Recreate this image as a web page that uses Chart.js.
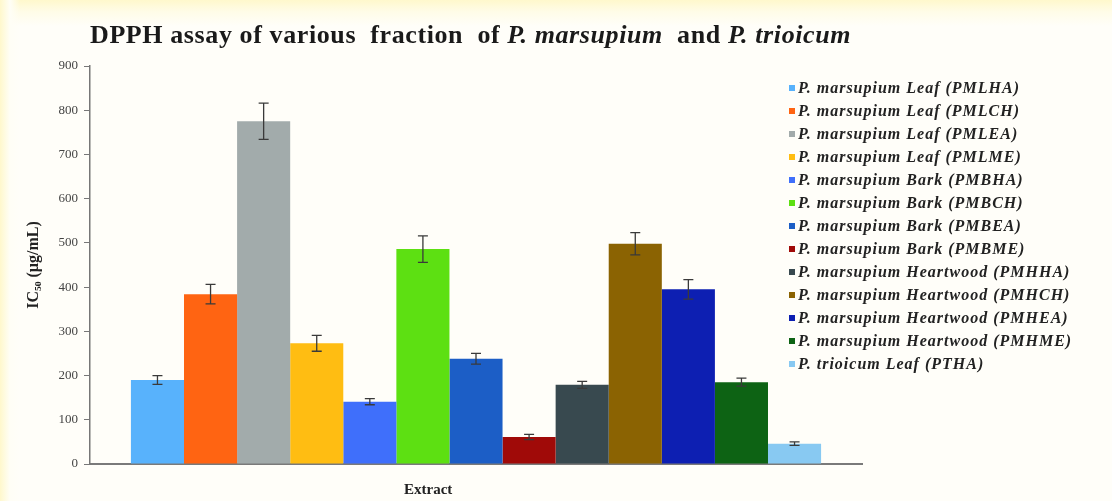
<!DOCTYPE html>
<html>
<head>
<meta charset="utf-8">
<script src="https://cdn.jsdelivr.net/npm/chart.js@4/dist/chart.umd.min.js"></script>
<style>
  html, body { margin: 0; padding: 0; }
  body {
    width: 1112px; height: 501px; overflow: hidden;
    background: linear-gradient(to bottom, #fff8cc 0px, #fffce8 12px, #fffef9 26px);
    font-family: 'Liberation Serif', 'DejaVu Serif', serif;
  }
  #wrap { position: relative; width: 1112px; height: 501px;
    background: linear-gradient(to right, #fff8cc 0px, #fffef6 10px, rgba(255,255,250,0) 20px); }
  #chart { position: absolute; left: 0; top: 0; }
  #title { position: absolute; left: 90px; top: 20px; font-weight: bold; font-size: 26px;
    color: #1a1a1a; white-space: pre; letter-spacing: 0.6px; }
  #xtitle { position: absolute; left: 404px; top: 481px; font-weight: bold; font-size: 15px; color: #222; }
  #legend { position: absolute; left: 789px; top: 79px; }
  .row { height: 23px; line-height: 17px; white-space: nowrap; font-weight: bold; font-style: italic;
    font-size: 16px; letter-spacing: 1px; color: #222; }
  .box { display: inline-block; width: 6px; height: 6px; margin-right: 3px; vertical-align: 2px; }
</style>
</head>
<body>
<div id="wrap">
  <canvas id="chart" width="1112" height="501"></canvas>
  <div id="title">DPPH assay of various  fraction  of <i>P. marsupium</i>  and <i>P. trioicum</i></div>
  <div id="xtitle">Extract</div>
  <div id="legend"></div>
</div>
<script>
const categories = ['Extract'];
const seriesNames = [
    'P. marsupium Leaf (PMLHA)',
    'P. marsupium Leaf (PMLCH)',
    'P. marsupium Leaf (PMLEA)',
    'P. marsupium Leaf (PMLME)',
    'P. marsupium Bark (PMBHA)',
    'P. marsupium Bark (PMBCH)',
    'P. marsupium Bark (PMBEA)',
    'P. marsupium Bark (PMBME)',
    'P. marsupium Heartwood (PMHHA)',
    'P. marsupium Heartwood (PMHCH)',
    'P. marsupium Heartwood (PMHEA)',
    'P. marsupium Heartwood (PMHME)',
    'P. trioicum Leaf (PTHA)'
];
const ic50Values = [190, 384, 775, 273, 141, 486, 238, 61, 179, 498, 395, 185, 46];
const errorValues = [10, 22, 41, 18, 7, 30, 12, 6, 8, 25, 22, 9, 4];
const yTicks = [0, 100, 200, 300, 400, 500, 600, 700, 800, 900];

const barColors = [
    '#58b2fc',  // PMLHA
    '#ff6412',  // PMLCH
    '#a2abab',  // PMLEA
    '#ffbd12',  // PMLME
    '#3f6ffb',  // PMBHA
    '#5de012',  // PMBCH
    '#1c5ec6',  // PMBEA
    '#a00a08',  // PMBME
    '#38494f',  // PMHHA
    '#8b6302',  // PMHCH
    '#0d1fb2',  // PMHEA
    '#0d6314',  // PMHME
    '#88c9f2'   // PTHA
];

// error bars drawn from the data through the y scale
const errorBarPlugin = {
    id: 'errorBars',
    afterDatasetsDraw(chart) {
        const ctx = chart.ctx;
        const y = chart.scales.y;
        ctx.save();
        ctx.strokeStyle = '#3a3a3a';
        ctx.lineWidth = 1.3;
        chart.data.datasets.forEach((ds, i) => {
            const bar = chart.getDatasetMeta(i).data[0];
            const v = ds.data[0];
            const e = errorValues[i];
            const top = y.getPixelForValue(v + e);
            const bot = y.getPixelForValue(v - e);
            ctx.beginPath();
            ctx.moveTo(bar.x, top); ctx.lineTo(bar.x, bot);
            ctx.moveTo(bar.x - 5, top); ctx.lineTo(bar.x + 5, top);
            ctx.moveTo(bar.x - 5, bot); ctx.lineTo(bar.x + 5, bot);
            ctx.stroke();
        });
        ctx.restore();
    }
};

document.addEventListener('DOMContentLoaded', function() {
    const legendEl = document.getElementById('legend');
    seriesNames.forEach((name, i) => {
        const row = document.createElement('div');
        row.className = 'row';
        row.innerHTML = '<span class="box" style="background:' + barColors[i] + '"></span>' + name;
        legendEl.appendChild(row);
    });

    const ctx = document.getElementById('chart').getContext('2d');
    new Chart(ctx, {
        type: 'bar',
        data: {
            labels: categories,
            datasets: seriesNames.map((name, i) => ({
                label: name,
                data: [ic50Values[i]],
                backgroundColor: barColors[i],
                borderWidth: 0,
                categoryPercentage: 0.894,
                barPercentage: 1.0
            }))
        },
        options: {
            responsive: false,
            animation: false,
            layout: { padding: { top: 66, right: 250, left: 0, bottom: 0 } },
            plugins: {
                legend: { display: false },
                tooltip: { enabled: false }
            },
            scales: {
                x: {
                    ticks: { display: false },
                    grid: { display: false },
                    border: { color: '#7a7a7a', width: 2 },
                    afterFit: s => { s.height = 37; }
                },
                y: {
                    min: 0,
                    max: 900,
                    afterBuildTicks: s => { s.ticks = yTicks.map(v => ({ value: v })); },
                    ticks: {
                        padding: 6,
                        color: '#444',
                        font: { family: "'Liberation Serif', serif", size: 13 }
                    },
                    grid: { drawOnChartArea: false, drawTicks: true, tickLength: 6, color: '#777' },
                    border: { color: '#777', width: 1.5 },
                    title: {
                        display: true,
                        text: 'IC\u2085\u2080 (\u00b5g/mL)',
                        color: '#222',
                        font: { family: "'Liberation Serif', serif", size: 16, weight: 'bold' },
                        padding: { top: 24, bottom: 0 }
                    },
                    afterFit: s => { s.width = 90; }
                }
            }
        },
        plugins: [errorBarPlugin]
    });
});
</script>
</body>
</html>
